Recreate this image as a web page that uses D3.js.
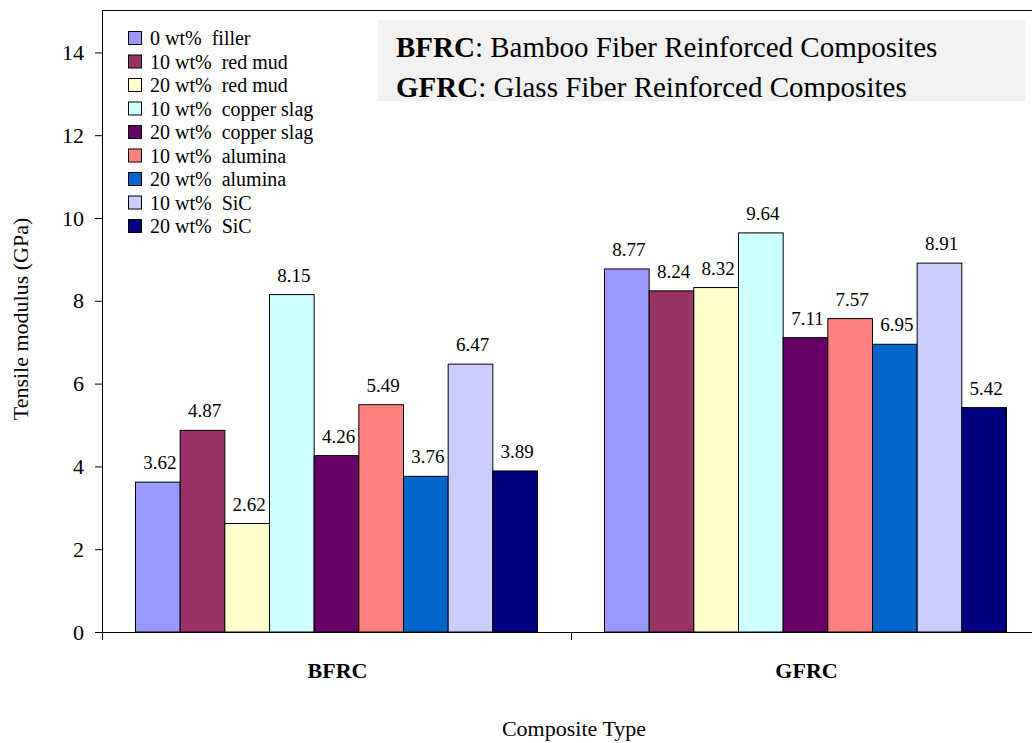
<!DOCTYPE html>
<html>
<head>
<meta charset="utf-8">
<script src="https://cdn.jsdelivr.net/npm/d3@7"></script>
<style>
  html, body { margin: 0; padding: 0; background: #fff; }
  svg { display: block; }
  text { font-family: "Liberation Serif", "Times New Roman", serif; fill: #000; }
</style>
</head>
<body>
<svg id="chart" width="1032" height="743"></svg>
<script>
// Composite types along the x axis
const categories = ["BFRC", "GFRC"];

// Filler series (one bar per series in each composite group)
const series = [
  "0 wt%  filler",
  "10 wt%  red mud",
  "20 wt%  red mud",
  "10 wt%  copper slag",
  "20 wt%  copper slag",
  "10 wt%  alumina",
  "20 wt%  alumina",
  "10 wt%  SiC",
  "20 wt%  SiC"
];

// Tensile modulus (GPa) per series, in category order [BFRC, GFRC]
const bfrcValues = [3.62, 4.87, 2.62, 8.15, 4.26, 5.49, 3.76, 6.47, 3.89];
const gfrcValues = [8.77, 8.24, 8.32, 9.64, 7.11, 7.57, 6.95, 8.91, 5.42];

const seriesColors = ["#9999FF", "#993366", "#FFFFCC", "#CCFFFF", "#660066",
                      "#FF8080", "#0066CC", "#CCCCFF", "#000080"];

const yTicks = [0, 2, 4, 6, 8, 10, 12, 14];

const noteLines = [
  { bold: "BFRC", rest: ": Bamboo Fiber Reinforced Composites" },
  { bold: "GFRC", rest: ": Glass Fiber Reinforced Composites" }
];

const yTitle = "Tensile modulus (GPa)";
const xTitle = "Composite Type";

// ---- layout ----
const plot = { left: 102, top: 10, right: 1040, bottom: 632 };
const svg = d3.select("#chart");

const valuesByCategory = { BFRC: bfrcValues, GFRC: gfrcValues };
const rows = categories.flatMap(c =>
  series.map((s, i) => ({ category: c, series: s, index: i, value: valuesByCategory[c][i] }))
);

const y = d3.scaleLinear().domain([0, 15]).range([plot.bottom, plot.top + 1]);
const x0 = d3.scaleBand().domain(categories).range([plot.left, plot.right]).padding(0);
const x1 = d3.scaleBand().domain(series).range([0, x0.bandwidth()])
  .paddingInner(0).paddingOuter(0.75);
const color = d3.scaleOrdinal().domain(series).range(seriesColors);

// plot frame (top edge)
svg.append("line")
  .attr("x1", plot.left).attr("x2", plot.right)
  .attr("y1", plot.top + 0.5).attr("y2", plot.top + 0.5)
  .attr("stroke", "#000").attr("stroke-width", 1);

// bars
svg.append("g").selectAll("rect").data(rows).join("rect")
  .attr("x", d => x0(d.category) + x1(d.series))
  .attr("y", d => y(d.value))
  .attr("width", x1.bandwidth())
  .attr("height", d => y(0) - y(d.value))
  .attr("fill", d => color(d.series))
  .attr("stroke", "#000")
  .attr("stroke-width", 1);

// value labels
svg.append("g").selectAll("text").data(rows).join("text")
  .attr("x", d => x0(d.category) + x1(d.series) + x1.bandwidth() / 2 + 2)
  .attr("y", d => y(d.value) - 13)
  .attr("text-anchor", "middle")
  .style("font-size", "19px")
  .text(d => d.value.toFixed(2));

// y axis
const yAxis = svg.append("g")
  .attr("transform", `translate(${plot.left},0)`)
  .call(d3.axisLeft(y).tickValues(yTicks).tickSize(7).tickPadding(11)
    .tickFormat(d3.format("d")));
yAxis.select(".domain").attr("d", `M0.5,${plot.top}V${plot.bottom}`).attr("stroke", "#000");
yAxis.selectAll(".tick line").attr("stroke", "#000");
yAxis.selectAll(".tick text")
  .style("font-size", "22px")
  .style("font-family", "'Liberation Serif', 'Times New Roman', serif")
  .attr("fill", "#000");

// x axis: category boundaries as ticks, labels centred in each band
const xAxis = svg.append("g").attr("transform", `translate(0,${plot.bottom})`);
xAxis.append("line")
  .attr("x1", plot.left - 7).attr("x2", plot.right)
  .attr("y1", 0.5).attr("y2", 0.5)
  .attr("stroke", "#000");
const boundaries = categories.map(c => x0(c)).concat([plot.right]);
xAxis.selectAll("line.tick").data(boundaries).join("line")
  .attr("class", "tick")
  .attr("x1", d => Math.round(d) + 0.5).attr("x2", d => Math.round(d) + 0.5)
  .attr("y1", 0).attr("y2", 8)
  .attr("stroke", "#000");
xAxis.selectAll("text").data(categories).join("text")
  .attr("x", d => x0(d) + x0.bandwidth() / 2 + 1)
  .attr("y", 46)
  .attr("text-anchor", "middle")
  .style("font-size", "22px")
  .style("font-weight", "bold")
  .text(d => d);

// axis titles
svg.append("text")
  .attr("transform", `translate(28,${(plot.top + plot.bottom) / 2 - 2}) rotate(-90)`)
  .attr("text-anchor", "middle")
  .style("font-size", "22px")
  .text(yTitle);

svg.append("text")
  .attr("x", 574).attr("y", 736)
  .attr("text-anchor", "middle")
  .style("font-size", "22px")
  .text(xTitle);

// legend
const legend = svg.append("g").attr("transform", "translate(128,31)");
const item = legend.selectAll("g").data(series).join("g")
  .attr("transform", (d, i) => `translate(0,${i * 23.5})`);
item.append("rect")
  .attr("x", 0.5).attr("y", 0.5)
  .attr("width", 13).attr("height", 13)
  .attr("fill", d => color(d))
  .attr("stroke", "#000").attr("stroke-width", 1);
item.append("text")
  .attr("x", 22).attr("y", 14)
  .attr("xml:space", "preserve")
  .style("white-space", "pre")
  .style("font-size", "20px")
  .text(d => d);

// note box with abbreviations (second line runs into the box's lower edge)
const note = { x: 378, y: 20, w: 647, h: 81 };
svg.append("clipPath").attr("id", "noteClip")
  .append("rect").attr("x", note.x).attr("y", note.y).attr("width", note.w).attr("height", note.h);
const noteG = svg.append("g").attr("clip-path", "url(#noteClip)");
noteG.append("rect")
  .attr("x", note.x).attr("y", note.y).attr("width", note.w).attr("height", note.h)
  .attr("fill", "#F2F2F2");
noteLines.forEach((ln, i) => {
  const t = noteG.append("text")
    .attr("x", 396).attr("y", 57 + i * 40)
    .style("font-size", "29px");
  t.append("tspan").style("font-weight", "bold").text(ln.bold);
  t.append("tspan").text(ln.rest);
});
</script>
</body>
</html>
